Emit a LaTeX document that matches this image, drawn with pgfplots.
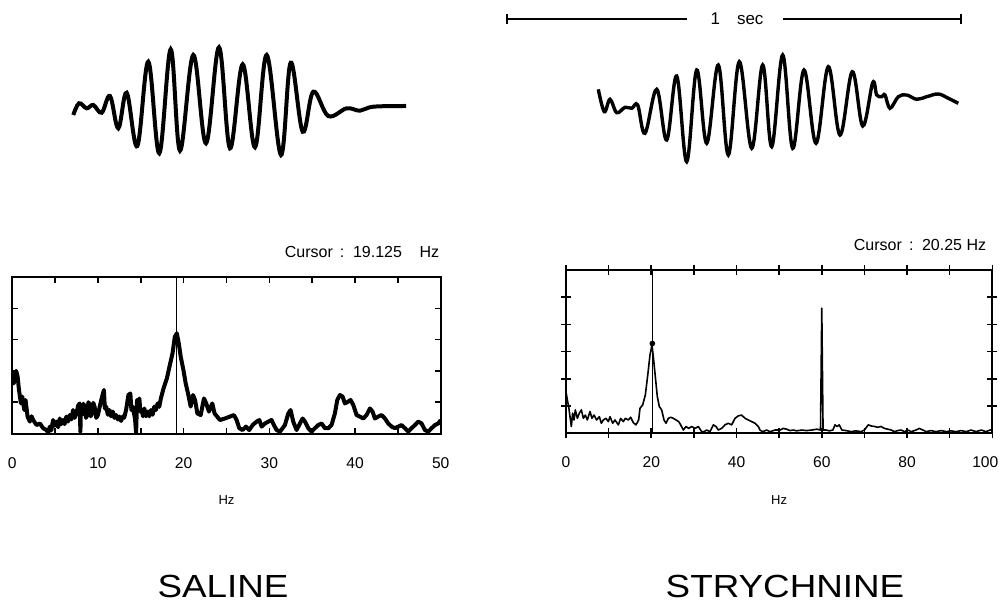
\documentclass[border=0pt]{standalone}
\usepackage{pgfplots}
\pgfplotsset{compat=1.18}
\usepackage{fontspec}
\setmainfont{Liberation Sans}
\newfontfamily\titlefont{Liberation Sans}[FakeStretch=1.15]

% picture is laid out on the 1001 x 611 px reference grid, 1 px = 0.5 pt
\pgfplotsset{
  spectrum/.style={
    scale only axis, anchor=south west,
    axis line style={line width=1pt},
    tick style={line width=0.8pt, black},
    /pgf/number format/assume math mode=true,
    tick label style={font=\fontsize{7.8}{7.8}\selectfont},
    yticklabels={},
    xlabel={Hz},
    xlabel style={font=\fontsize{6.5}{6.5}\selectfont, anchor=center},
  },
}

\begin{document}
\begin{tikzpicture}
\path[use as bounding box] (0,0) rectangle (500.5pt,305.5pt);

% ---- overlay in pixel units: raw EEG traces, time bar, captions ----
\begin{axis}[
  at={(0pt,0pt)}, anchor=south west,
  width=500.5pt, height=305.5pt, scale only axis,
  xmin=0, xmax=1001, ymin=0, ymax=611, y dir=reverse,
  hide axis, clip=false,
]
% saline trace
\addplot[line width=2pt, smooth, tension=0.6] coordinates {
  (73.3,115) (79,103.3) (86.7,108.3) (93.3,105) (101.7,112.7) (110,96)
  (118.3,128.3) (126.7,92.7) (137.3,146) (148.3,61.7) (159.3,153.3)
  (170.7,49.3) (180,150.7) (193.3,55) (206,143.3) (219,47.3) (230,148.3)
  (242.7,64.3) (255,147.3) (266.7,55) (281,155) (290.7,62.7) (302.7,131.7)
  (313.3,91.7) (328.3,116) (346.7,108.3) (360,110.7) (373.3,106.7) (406,106)
};
% strychnine trace
\addplot[line width=1.7pt, smooth, tension=0.6] coordinates {
  (598.3,89.3) (604.3,111.7) (610,99.3) (616.7,112.7) (625,107.3) (631.7,108.3)
  (637.7,105) (645,133.3) (656.7,89.3) (666.7,140) (676.7,76) (686.7,161.7)
  (696.7,70) (706.7,143.3) (718.3,65) (728.3,155) (739.3,61.7) (751.7,148.3)
  (762.7,65) (771.7,146.7) (782.7,55) (792.7,148.3) (804,70) (816,143.3)
  (828.3,66.7) (840,135) (852.3,71.7) (862.7,126) (872.7,82.7) (876.7,95)
  (881.7,96.7) (885,95) (890,108.3) (898.3,96.7) (906.7,95) (916.7,99.3)
  (926.7,96.7) (938.3,94) (948.3,98.3) (958.3,103.3)
};
% 1 sec bar
\addplot[line width=1pt] coordinates {(507,14) (507,24)};
\addplot[line width=1pt] coordinates {(507,19) (687,19)};
\addplot[line width=1pt] coordinates {(783,19) (961,19)};
\addplot[line width=1pt] coordinates {(961,14) (961,24)};
\node[font=\fontsize{8.5}{8.5}\selectfont, inner sep=0] at (axis cs:737,19) {1\hspace{1em}sec};

\node[font=\fontsize{8}{8}\selectfont, inner sep=0] at (axis cs:362,252) {Cursor\, :\, 19.125\hspace{1.1em}Hz};
\node[font=\fontsize{8}{8}\selectfont, inner sep=0] at (axis cs:920,245) {Cursor\, :\, 20.25 Hz};

\node[font=\titlefont\fontsize{16}{16}\selectfont, inner sep=0] at (axis cs:223,586) {SALINE};
\node[font=\titlefont\fontsize{16}{16}\selectfont, inner sep=0] at (axis cs:785,586) {STRYCHNINE};
\end{axis}

% ---- saline spectrum ----
\begin{axis}[spectrum,
  at={(6.15pt,88.75pt)}, width=214.2pt, height=78.25pt,
  xmin=0, xmax=50, ymin=0, ymax=5,
  xtick={0,5,...,50}, xticklabels={0,,10,,20,,30,,40,,50},
  ytick={1,2,3,4},
  tick align=inside, major tick length=3pt,
  xticklabel style={yshift=-8.5pt},
  xlabel style={at={(axis description cs:0.5,-0.425)}},
]
\addplot[line width=0.6pt] coordinates {(19.125,0) (19.125,5)};
\addplot[line width=2pt, line join=round] coordinates {
  (0.00,1.98) (0.15,1.60) (0.31,1.71) (0.45,2.00) (0.62,1.82) (0.78,1.39) (1.01,0.96) (1.16,1.18)
  (1.40,0.75) (1.55,1.07) (1.78,0.54) (2.05,0.38) (2.25,0.55) (2.44,0.43) (2.83,0.27)
  (3.22,0.32) (3.60,0.17) (3.99,0.11) (4.20,0.02) (4.38,0.22) (4.55,0.10) (4.76,0.43)
  (4.95,0.25) (5.15,0.38) (5.35,0.20) (5.54,0.48) (5.72,0.30) (5.92,0.43) (6.10,0.30)
  (6.31,0.54) (6.50,0.38) (6.70,0.59) (6.90,0.45) (7.09,0.75) (7.28,0.50)
  (7.47,0.64) (7.70,0.90) (7.86,0.96) (7.95,0.05) (8.00,0.75) (8.13,0.60)
  (8.30,0.95) (8.44,0.86) (8.60,0.50) (8.75,0.59) (8.88,1.00) (9.02,0.91) (9.15,0.55)
  (9.29,0.64) (9.45,0.98) (9.60,0.86) (9.80,0.50) (9.99,0.59) (10.20,0.85)
  (10.38,1.07) (10.69,1.39) (10.80,0.80) (10.96,0.86) (11.15,0.60) (11.34,0.75)
  (11.52,0.55) (11.73,0.70) (11.92,0.50) (12.12,0.59) (12.30,0.45)
  (12.50,0.54) (12.70,0.40) (12.89,0.54) (13.05,0.50) (13.28,0.75) (13.55,1.23) (13.78,1.28)
  (13.90,0.75) (14.05,0.86) (14.32,0.48) (14.45,0.02) (14.56,1.07) (14.70,0.80)
  (14.83,1.12) (14.95,0.70) (15.10,0.75) (15.25,0.55) (15.41,0.80) (15.60,0.55)
  (15.79,0.70) (15.98,0.55) (16.18,0.75) (16.38,0.60) (16.57,0.86) (16.75,0.75)
  (16.96,0.96) (17.15,0.85) (17.34,1.12) (17.65,1.44)
  (18.04,1.76) (18.43,2.24) (18.70,2.56) (18.97,3.09) (19.20,3.20) (19.43,2.88)
  (19.66,2.45) (19.97,2.03) (20.24,1.60) (20.51,1.28) (20.82,0.86) (21.09,1.23)
  (21.33,1.07) (21.60,0.64) (21.99,0.59) (22.37,1.12) (22.64,0.96) (22.95,0.70)
  (23.34,0.96) (23.61,0.64) (24.24,0.43) (24.82,0.48) (25.40,0.54) (25.87,0.59)
  (26.18,0.43) (26.49,0.17) (26.88,0.11) (27.27,0.22) (27.66,0.11) (28.05,0.27)
  (28.52,0.38) (28.83,0.43) (29.10,0.22) (29.49,0.32) (29.88,0.38) (30.26,0.43)
  (30.54,0.27) (30.85,0.11) (31.24,0.06) (31.82,0.27) (32.21,0.64) (32.48,0.75)
  (32.79,0.38) (33.18,0.11) (33.57,0.32) (33.88,0.48) (34.16,0.38) (34.54,0.17)
  (34.93,0.06) (35.32,0.17) (35.71,0.27) (36.10,0.32) (36.49,0.17) (36.88,0.17)
  (37.26,0.27) (37.65,0.64) (37.93,1.07) (38.24,1.23) (38.55,1.18) (38.82,0.96)
  (39.21,1.02) (39.48,1.07) (39.80,0.91) (40.18,0.59) (40.57,0.54) (40.96,0.48)
  (41.35,0.59) (41.74,0.80) (42.05,0.70) (42.32,0.48) (42.71,0.54) (43.10,0.59)
  (43.49,0.48) (43.88,0.32) (44.27,0.22) (44.66,0.17) (45.05,0.22) (45.43,0.27)
  (45.82,0.17) (46.21,0.06) (46.60,0.17) (46.99,0.27) (47.38,0.38) (47.77,0.32)
  (48.16,0.11) (48.55,0.06) (48.94,0.17) (49.33,0.27) (49.72,0.32) (50.00,0.43)
};
\end{axis}

% ---- strychnine spectrum ----
\begin{axis}[spectrum,
  at={(283pt,88.85pt)}, width=213.15pt, height=81.65pt,
  xmin=0, xmax=100, ymin=0, ymax=6,
  xtick={0,10,...,100}, xticklabels={0,,20,,40,,60,,80,,\hspace{-7pt}100},
  ytick={1,2,3,4,5},
  tick align=center, major tick length=5pt,
  xticklabel style={yshift=-5.5pt},
  xlabel style={at={(axis description cs:0.5,-0.408)}},
]
\addplot[line width=0.6pt] coordinates {(20.25,0) (20.25,6)};
\addplot[only marks, mark=*, mark size=1.2pt] coordinates {(20.25,3.3)};
\addplot[line width=0.8pt, line join=round] coordinates {
  (0,1.53) (0.31,1.23) (0.63,0.98) (0.94,0.61) (1.25,0.25) (1.56,0.74)
  (1.88,0.49) (2.19,0.86) (2.66,0.55) (3.13,0.74) (3.60,0.86) (4.07,0.55)
  (4.53,0.67) (5.00,0.49) (5.63,0.80) (6.10,0.55) (6.57,0.67) (7.19,0.49)
  (7.82,0.61) (8.29,0.37) (8.76,0.49) (9.38,0.55) (9.93,0.43) (10.32,0.61)
  (10.95,0.37) (11.49,0.49) (12.28,0.31) (12.82,0.55) (13.45,0.43) (13.92,0.55)
  (14.62,0.49) (15.17,0.59) (15.79,0.39) (16.42,0.31) (17.04,0.49) (17.36,0.92)
  (17.98,1.04) (18.61,1.41) (19.23,2.21) (19.70,2.88) (20.17,3.25) (20.48,2.82)
  (20.95,2.08) (21.42,1.35) (21.89,0.98) (22.44,0.86) (22.99,0.49) (23.46,0.37)
  (24.00,0.55) (24.55,0.59) (25.18,0.55) (25.80,0.49) (26.43,0.43) (26.90,0.31)
  (27.52,0.12) (28.15,0.25) (28.77,0.18) (29.48,0.25) (30.26,0.18) (31.04,0.25)
  (31.82,0.06) (32.37,0.06) (32.99,0.12) (33.78,0.06) (34.56,0.31) (35.18,0.25)
  (35.73,0.12) (36.51,0.18) (37.29,0.31) (38.08,0.37) (38.86,0.31) (39.64,0.55)
  (40.42,0.64) (41.20,0.67) (41.99,0.55) (42.77,0.49) (43.55,0.43) (44.33,0.37)
  (45.11,0.25) (45.50,0.12) (46.13,0.06) (47.07,0.12) (47.85,0.06) (49.03,0.12)
  (50.20,0.12) (50.98,0.18) (51.76,0.15) (52.55,0.10) (53.33,0.12) (54.11,0.09)
  (55.29,0.12) (56.46,0.10) (57.63,0.12) (58.80,0.15) (59.70,0.12) (60.00,4.60)
  (60.30,0.12) (61.00,0.12) (61.80,0.09) (62.60,0.12) (63.10,0.31) (63.60,0.25)
  (64.10,0.31) (64.70,0.12) (65.70,0.10) (66.90,0.06) (68.00,0.09) (69.20,0.06)
  (70.00,0.12) (70.90,0.31) (71.60,0.27) (72.40,0.25) (73.10,0.22) (73.90,0.25)
  (74.70,0.18) (75.50,0.15) (76.30,0.12) (77.00,0.06) (77.80,0.10) (78.60,0.12)
  (79.40,0.06) (80.20,0.12) (81.00,0.06) (82.10,0.12) (82.90,0.18) (83.70,0.12)
  (84.50,0.06) (85.60,0.10) (86.80,0.06) (88.00,0.10) (89.20,0.06) (90.30,0.09)
  (91.50,0.06) (92.70,0.10) (93.90,0.06) (95.00,0.12) (96.20,0.06) (97.40,0.12)
  (98.50,0.06) (99.50,0.12) (100,0.15)
};
\end{axis}
\end{tikzpicture}
\end{document}
